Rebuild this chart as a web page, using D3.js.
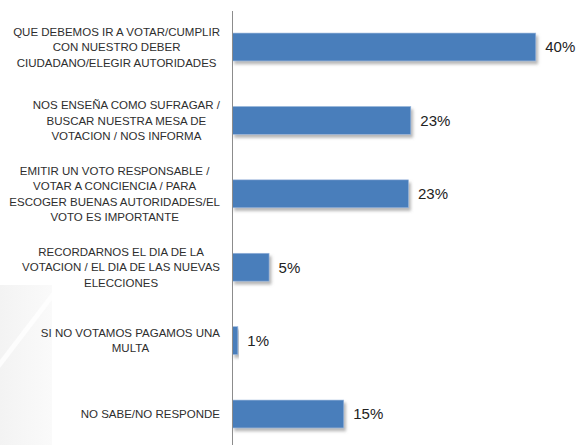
<!DOCTYPE html>
<html>
<head>
<meta charset="utf-8">
<script src="https://cdn.jsdelivr.net/npm/d3@7"></script>
<style>
  html, body { margin: 0; padding: 0; background: #ffffff; }
  svg { display: block; }
</style>
</head>
<body>
<svg id="chart" width="580" height="445"></svg>
<script>
// ---- data ----
const categories = [
  "QUE DEBEMOS IR A VOTAR/CUMPLIR|CON NUESTRO DEBER|CIUDADANO/ELEGIR AUTORIDADES",
  "NOS ENSEÑA COMO SUFRAGAR /|BUSCAR NUESTRA MESA DE|VOTACION / NOS INFORMA",
  "EMITIR UN VOTO RESPONSABLE /|VOTAR A CONCIENCIA / PARA|ESCOGER BUENAS AUTORIDADES/EL|VOTO ES IMPORTANTE",
  "RECORDARNOS EL DIA DE LA|VOTACION / EL DIA DE LAS NUEVAS|ELECCIONES",
  "SI NO VOTAMOS PAGAMOS UNA|MULTA",
  "NO SABE/NO RESPONDE"
];
const values = [39.8, 23.4, 23.1, 4.8, 0.7, 14.6];

// ---- layout ----
const W = 580, H = 445;
const axisX = 232.5;
const svg = d3.select("#chart");

const defs = svg.append("defs");
const f = defs.append("filter").attr("id", "shadow")
  .attr("x", "-10%").attr("y", "-30%").attr("width", "130%").attr("height", "180%");
f.append("feDropShadow").attr("dx", 2).attr("dy", 3).attr("stdDeviation", 1.4)
  .attr("flood-color", "#7a7a7a").attr("flood-opacity", 0.55);

const g1 = defs.append("linearGradient").attr("id", "bgfade")
  .attr("x1", "0").attr("y1", "0").attr("x2", "1").attr("y2", "0");
g1.append("stop").attr("offset", "0%").attr("stop-color", "#f3f3f3");
g1.append("stop").attr("offset", "100%").attr("stop-color", "#fafafa");

// faint decorative background on lower left
svg.append("rect").attr("x", 0).attr("y", 285).attr("width", 52).attr("height", H - 285)
  .attr("fill", "url(#bgfade)");
svg.append("path")
  .attr("d", `M52,292 L0,360 L0,368 L52,300 Z`)
  .attr("fill", "#ffffff").attr("opacity", 0.8);

const x = d3.scaleLinear().domain([0, 45]).range([axisX, axisX + 45 * 7.62]);
const y = d3.scaleBand().domain(d3.range(categories.length))
  .range([10.3, 450.7]).paddingInner(0.62).paddingOuter(0.31);

// bars
svg.append("g").selectAll("rect").data(values).join("rect")
  .attr("x", x(0))
  .attr("y", (d, i) => y(i))
  .attr("width", d => x(d) - x(0))
  .attr("height", y.bandwidth())
  .attr("fill", "#4a7ebb")
  .attr("stroke", "#9db9de")
  .attr("stroke-width", 0.6)
  .attr("filter", "url(#shadow)");

// axis line
const yAxis = d3.axisLeft(y).tickSize(0).tickFormat("");
const ax = svg.append("g").attr("transform", `translate(${axisX},0)`).call(yAxis);
ax.select(".domain").remove();
svg.append("line").attr("x1", axisX).attr("x2", axisX).attr("y1", 11).attr("y2", H)
  .attr("stroke", "#8c8c8c").attr("stroke-width", 1);

// category labels
const labelRight = 220;
const lineH = 15.5;
const lg = svg.append("g")
  .attr("font-family", "'Liberation Sans', Arial, sans-serif")
  .attr("font-size", "11.5px").attr("fill", "#2e2e2e");
categories.forEach((c, i) => {
  const lines = c.split("|");
  const t = lg.append("text").attr("text-anchor", "middle");
  const cy = y(i) + y.bandwidth() / 2;
  lines.forEach((ln, j) => {
    t.append("tspan").text(ln)
      .attr("y", cy + (j - (lines.length - 1) / 2) * lineH)
      .attr("dy", "0.36em");
  });
  let maxW = 0;
  t.selectAll("tspan").each(function () { maxW = Math.max(maxW, this.getComputedTextLength()); });
  t.selectAll("tspan").attr("x", labelRight - maxW / 2);
});

// value labels
const fmt = d3.format(".0f");
svg.append("g").attr("font-family", "'Liberation Sans', Arial, sans-serif")
  .attr("font-size", "15px").attr("fill", "#222")
  .selectAll("text").data(values).join("text")
  .attr("x", d => x(d) + 9.5)
  .attr("y", (d, i) => y(i) + y.bandwidth() / 2)
  .attr("dy", "0.36em")
  .text(d => fmt(d) + "%");
</script>
</body>
</html>
